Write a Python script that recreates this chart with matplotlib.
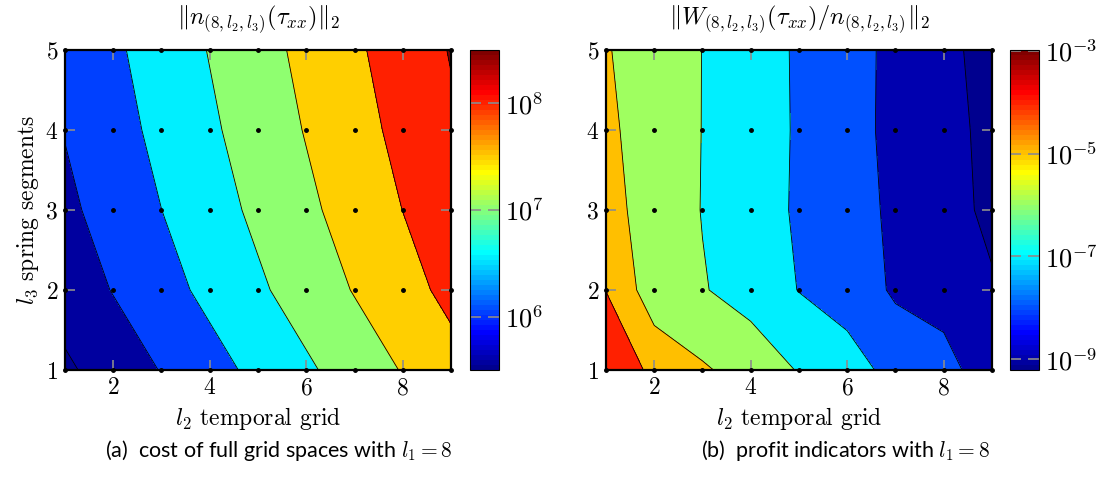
import numpy as np
import matplotlib
matplotlib.use('Agg')
import matplotlib.pyplot as plt
from matplotlib.colors import ListedColormap, Normalize
from matplotlib.cm import ScalarMappable

plt.rcParams['font.family'] = 'serif'
plt.rcParams['font.serif'] = ['cmr10']
plt.rcParams['mathtext.fontset'] = 'cm'
plt.rcParams['axes.formatter.use_mathtext'] = True

# grid levels
l2 = [1, 2, 3, 4, 5, 6, 7, 8, 9]
l3 = [1, 2, 3, 4, 5]

# ||n_(8,l2,l3)(tau_xx)||_2, one row per l3, one column per l2
cost = [
    [2.62e5, 5.24e5, 1.05e6, 2.10e6, 4.19e6, 8.39e6, 1.68e7, 3.36e7, 6.71e7],
    [5.24e5, 1.05e6, 2.10e6, 4.19e6, 8.39e6, 1.68e7, 3.36e7, 6.71e7, 1.34e8],
    [7.86e5, 1.57e6, 3.15e6, 6.29e6, 1.26e7, 2.52e7, 5.03e7, 1.01e8, 2.01e8],
    [1.05e6, 2.10e6, 4.19e6, 8.39e6, 1.68e7, 3.36e7, 6.71e7, 1.34e8, 2.68e8],
    [1.31e6, 2.62e6, 5.24e6, 1.05e7, 2.10e7, 4.19e7, 8.39e7, 1.68e8, 3.36e8],
]

# ||W_(8,l2,l3)(tau_xx) / n_(8,l2,l3)||_2
profit = [
    [1.04e-3, 5.07e-5, 1.32e-5, 3.89e-6, 8.71e-7, 2.20e-7, 5.48e-8, 1.62e-8, 4.54e-9],
    [9.53e-5, 2.75e-6, 1.15e-6, 4.17e-7, 9.35e-8, 4.41e-8, 7.06e-9, 5.79e-9, 1.22e-9],
    [1.96e-5, 4.24e-6, 9.27e-7, 2.65e-7, 7.66e-8, 2.28e-8, 6.85e-9, 2.11e-9, 6.50e-10],
    [1.49e-5, 3.78e-6, 9.64e-7, 2.79e-7, 7.96e-8, 2.08e-8, 5.93e-9, 1.88e-9, 5.96e-10],
    [1.16e-5, 3.36e-6, 9.75e-7, 2.75e-7, 7.74e-8, 2.15e-8, 6.01e-9, 1.69e-9, 4.72e-10],
]

# contour levels (log10), colour limits of the fills and of the colorbars
cost_levels = [5.0, 5.5, 6.0, 6.5, 7.0, 7.5, 8.0, 8.5, 9.0]
profit_levels = [-10, -9, -8, -7, -6, -5, -4, -3, -2]
cost_fill_clim = (5.42, 8.53)
profit_fill_clim = (-9.21, -2.985)
cost_bar_clim = (5.5, 8.5)
profit_bar_clim = (-9.21, -2.985)
cost_ticks = [6, 7, 8]
profit_ticks = [-9, -7, -5, -3]


def matlab_jet(m=64):
    n = m // 4
    u = np.concatenate([np.arange(1, n + 1) / n, np.ones(n - 1), np.arange(n, 0, -1) / n])
    g = n // 2 + np.arange(len(u))
    J = np.zeros((m, 3))
    for col, idx in enumerate([g + n, g, g - n]):
        ok = (idx >= 0) & (idx < m)
        J[idx[ok], col] = u[ok]
    return ListedColormap(J)


cmap = matlab_jet()


def draw(ax, cax, data, levels, fill_clim, bar_clim, ticks, title):
    Z = np.log10(np.array(data))
    norm = Normalize(*fill_clim, clip=True)
    # each band takes the colour of its lower level
    band_colors = [cmap(norm(v)) for v in levels[:-1]]
    ax.contourf(l2, l3, Z, levels=levels, colors=band_colors)
    ax.contour(l2, l3, Z, levels=levels, colors='k', linewidths=0.6,
               negative_linestyles='solid')
    X, Y = np.meshgrid(l2, l3)
    ax.plot(X.ravel(), Y.ravel(), 'k.', markersize=5, clip_on=False, zorder=5)

    ax.set_xlim(1, 9)
    ax.set_ylim(1, 5)
    ax.set_xticks([2, 4, 6, 8])
    ax.set_yticks([1, 2, 3, 4, 5])
    ax.tick_params(direction='in', top=True, right=True, color='0.55',
                   length=7, width=1.2, labelsize=17, pad=5)
    for s in ax.spines.values():
        s.set_linewidth(1.6)
    ax.set_xlabel(r'$l_2$ temporal grid', fontsize=17, labelpad=4)
    ax.set_title(title, fontsize=17.5, pad=19)

    cb = plt.colorbar(ScalarMappable(norm=Normalize(*bar_clim), cmap=cmap), cax=cax)
    cb.set_ticks(ticks)
    cb.set_ticklabels([r'$10^{%d}$' % t for t in ticks])
    cb.outline.set_linewidth(0.8)
    cax.yaxis.set_ticks_position('both')
    cax.tick_params(direction='in', color='0.55', length=8, width=1.2,
                    labelsize=19, labelleft=False, labelright=True, pad=4)


fig = plt.figure(figsize=(10.96, 4.8), dpi=100)
ax1 = fig.add_axes([0.0593, 0.2292, 0.3522, 0.6667])
cax1 = fig.add_axes([0.4288, 0.2292, 0.0265, 0.6667])
ax2 = fig.add_axes([0.5529, 0.2292, 0.3522, 0.6667])
cax2 = fig.add_axes([0.9215, 0.2292, 0.0265, 0.6667])

draw(ax1, cax1, cost, cost_levels, cost_fill_clim, cost_bar_clim, cost_ticks,
     r'$\Vert n_{(8,l_2,l_3)}(\tau_{xx})\Vert_2$')
draw(ax2, cax2, profit, profit_levels, profit_fill_clim, profit_bar_clim, profit_ticks,
     r'$\Vert W_{(8,l_2,l_3)}(\tau_{xx})/n_{(8,l_2,l_3)}\Vert_2$')
ax1.set_ylabel(r'$l_3$ spring segments', fontsize=17, labelpad=3)

fig.text(0.254, 0.062, r'(a)  cost of full grid spaces with $l_1 = 8$',
         ha='center', va='center', fontsize=15.5, family='Lato')
fig.text(0.771, 0.062, r'(b)  profit indicators with $l_1 = 8$',
         ha='center', va='center', fontsize=15.5, family='Lato')

fig.savefig('out.png', dpi=100)
plt.close(fig)
